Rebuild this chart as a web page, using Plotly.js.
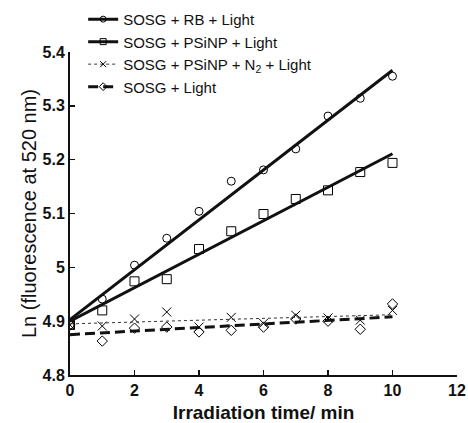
<!DOCTYPE html>
<html><head><meta charset="utf-8">
<script src="https://cdn.plot.ly/plotly-3.0.1.min.js"></script>
<style>html,body{margin:0;padding:0;background:#fff}#chart{width:468px;height:423px}</style>
</head><body><div id="chart"></div>
<script>
// Measured data points
var timeMin = [0, 1, 2, 3, 4, 5, 6, 7, 8, 9, 10];
var rbLight    = [4.893, 4.941, 5.004, 5.054, 5.104, 5.160, 5.181, 5.220, 5.281, 5.314, 5.355];
var psinpLight = [4.893, 4.920, 4.974, 4.978, 5.034, 5.067, 5.099, 5.127, 5.143, 5.177, 5.194];
var psinpN2    = [4.893, 4.891, 4.904, 4.917, 4.889, 4.907, 4.896, 4.911, 4.906, 4.902, 4.920];
var sosgLight  = [4.893, 4.863, 4.887, 4.889, 4.880, 4.883, 4.889, 4.904, 4.900, 4.885, 4.932];
// Fitted lines (end points)
var fitX = [0, 10];
var rbFit    = [4.903, 5.366];
var psinpFit = [4.900, 5.211];
var n2Fit    = [4.895, 4.912];
var lightFit = [4.875, 4.908];
var names = ['SOSG + RB + Light', 'SOSG + PSiNP + Light', 'SOSG + PSiNP + N<sub>2</sub> + Light', 'SOSG + Light'];

var FONT = 'Arial, "Liberation Sans", sans-serif';
function pts(y, sym, sz) {
  return {x: timeMin, y: y, mode: 'markers', showlegend: false, hoverinfo: 'skip',
    marker: {symbol: sym, size: sz, color: '#000', line: {color: '#000', width: 1}}};
}
function fit(y, name, sym, sz, line, grp) {
  return {x: fitX, y: y, name: name, mode: 'lines+markers', legendgroup: grp,
    line: line, selectedpoints: [], unselected: {marker: {opacity: 0}},
    marker: {symbol: sym, size: sz, color: '#000', line: {color: '#000', width: 1}}};
}
var data = [
  pts(rbLight, 'circle-open', 8),
  pts(psinpLight, 'square-open', 9),
  pts(psinpN2, 'x-thin-open', 9),
  pts(sosgLight, 'diamond-open', 8),
  fit(rbFit, names[0], 'circle-open', 6, {color: '#111', width: 3}, 'a'),
  fit(psinpFit, names[1], 'square-open', 6, {color: '#111', width: 3}, 'b'),
  fit(n2Fit, names[2], 'x-thin-open', 6, {color: '#333', width: 1, dash: '3px,3px'}, 'c'),
  fit(lightFit, names[3], 'diamond-open', 6, {color: '#111', width: 3, dash: '10px,5px'}, 'd')
];
var layout = {
  width: 468, height: 423,
  margin: {l: 70, r: 11, t: 52, b: 48, autoexpand: false},
  paper_bgcolor: '#fff', plot_bgcolor: '#fff',
  font: {family: FONT, color: '#111', size: 15},
  showlegend: true,
  legend: {x: 0.034, y: 1.152, xanchor: 'left', yanchor: 'top', bgcolor: 'rgba(0,0,0,0)',
    font: {family: FONT, size: 15, color: '#111'}, traceorder: 'grouped', tracegroupgap: 0},
  xaxis: {range: [0, 12], dtick: 2, tick0: 0, showgrid: false, zeroline: false,
    showline: true, linecolor: '#111', linewidth: 2, ticks: 'inside', ticklen: 5, tickwidth: 1.5, tickcolor: '#111',
    tickfont: {family: FONT, size: 16, color: '#111', weight: 'bold'},
    title: {text: '<b>Irradiation time/ min</b>', font: {family: FONT, size: 19, color: '#111'}, standoff: 14}},
  yaxis: {range: [4.8, 5.4], dtick: 0.1, tick0: 4.8, showgrid: false, zeroline: false,
    showline: true, linecolor: '#111', linewidth: 2, ticks: 'inside', ticklen: 5, tickwidth: 1.5, tickcolor: '#111',
    tickfont: {family: FONT, size: 16, color: '#111', weight: 'bold'},
    title: {text: 'Ln (fluorescence at 520 nm)', font: {family: FONT, size: 20, color: '#111'}, standoff: 1}}
};
Plotly.newPlot('chart', data, layout, {displayModeBar: false, staticPlot: true});
</script></body></html>
